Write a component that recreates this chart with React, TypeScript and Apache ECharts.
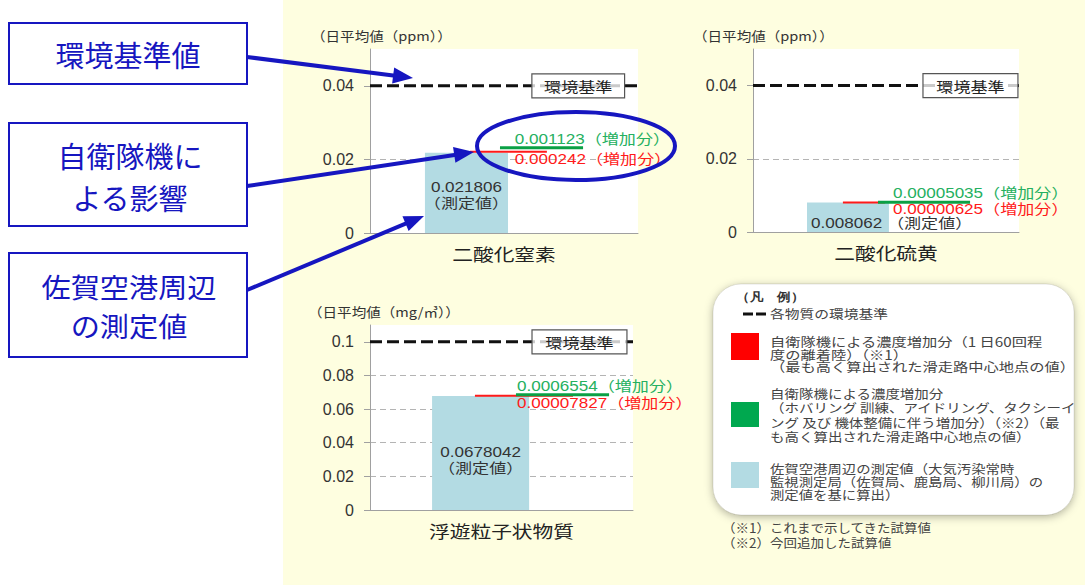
import React, { useEffect, useRef } from 'react';
import * as echarts from 'echarts';

// ---------- data ----------
const categories = ['二酸化窒素', '二酸化硫黄', '浮遊粒子状物質'];
const measured = [0.021806, 0.008062, 0.0678042];
const redIncrease = [0.000242, 0.00000625, 0.00007827];
const greenIncrease = [0.001123, 0.00005035, 0.0006554];
const standards = [0.04, 0.04, 0.1];
const yMax = [0.05, 0.05, 0.11];
const yInterval = 0.02;
const yTicks = [
  [0, 0.02, 0.04],
  [0, 0.02, 0.04],
  [0, 0.02, 0.04, 0.06, 0.08, 0.1],
];
const units = ['（日平均値（ppm））', '（日平均値（ppm））', '（日平均値（mg/㎥））'];
const measuredTag = '（測定値）';
const increaseTag = '（増加分）';
const standardTag = '環境基準';

const annotationTexts = [['環境基準値'], ['自衛隊機に', 'よる影響'], ['佐賀空港周辺', 'の測定値']];
const legendTitle = '（凡　例）';
const legendStandard = '各物質の環境基準';
const legendRed = ['自衛隊機による濃度増加分（1 日60回程', '度の離着陸）（※1）', '（最も高く算出された滑走路中心地点の値）'];
const legendGreen = [
  '自衛隊機による濃度増加分',
  '（ホバリング 訓練、アイドリング、タクシーイ',
  'ング 及び 機体整備に伴う増加分）（※2）（最',
  'も高く算出された滑走路中心地点の値）',
];
const legendBlue = ['佐賀空港周辺の測定値（大気汚染常時', '監視測定局（佐賀局、鹿島局、柳川局）の', '測定値を基に算出）'];
const footnotes = ['（※1）これまで示してきた試算値', '（※2）今回追加した試算値'];

// ---------- styles / layout ----------
const FONT = "'Liberation Sans', 'Noto Sans CJK JP', sans-serif";
const JFONT = "'Noto Sans CJK JP', sans-serif";
const BLUE = '#1616c0';
const BAR = '#b3dbe3';
const RED = '#ff1a1a';
const GREEN = '#0aa045';
const GREEN_TXT = '#25b060';
const SX = 1.22; // horizontal stretch of the reference's lettering

const layouts = [
  { grid: { left: 370, top: 49, width: 268, height: 184 }, bar: [20.5, 51.5], red: [37.3, 66], green: [48.5, 79.5], lblX: 54, box: [60.4, 95], mode: 'two', mOff: 2, unit: [311, 35] },
  { grid: { left: 753, top: 49, width: 266, height: 183 }, bar: [20.3, 51.1], red: [33.8, 49.6], green: [47, 81.6], lblX: 52.6, box: [63.9, 99.6], mode: 'one', mOff: 6, unit: [693, 35] },
  { grid: { left: 370, top: 325, width: 263, height: 185 }, bar: [23.6, 60.5], red: [39.9, 77.2], green: [55.5, 90.9], lblX: 55.9, box: [61.6, 97.7], mode: 'two', mOff: 7, unit: [308, 311] },
];

const fmt = (v: number) => v.toFixed(8).replace(/0+$/, '');
const font = (s: number, f = FONT) => `${s}px ${f}`;

function txt(text: string, x: number, y: number, size: number, fill: string, align = 'left', f = FONT, sx = 1, extra: any = {}) {
  return {
    type: 'text',
    x,
    y,
    z: 100,
    scaleX: sx,
    style: { text, fill, font: `${size}px ${f}`, align, textAlign: align, verticalAlign: 'middle', textVerticalAlign: 'middle', ...extra },
  };
}

function block(lines: string[], x: number, firstCenter: number, lh: number, size: number, sx: number, fill = '#444', align = 'left') {
  return {
    type: 'text',
    x,
    y: firstCenter - lh / 2,
    z: 100,
    scaleX: sx,
    style: {
      text: lines.join('\n'),
      fill,
      font: `${size}px ${JFONT}`,
      lineHeight: lh,
      align,
      textAlign: align,
      verticalAlign: 'top',
      textVerticalAlign: 'top',
    },
  };
}

function arrow(x1: number, y1: number, x2: number, y2: number) {
  const ang = Math.atan2(y2 - y1, x2 - x1);
  const len = 20;
  const hw = 8;
  const bx = x2 - len * Math.cos(ang);
  const by = y2 - len * Math.sin(ang);
  const px = -Math.sin(ang) * hw;
  const py = Math.cos(ang) * hw;
  return [
    { type: 'line', z: 100, shape: { x1, y1, x2: bx + 2 * Math.cos(ang), y2: by + 2 * Math.sin(ang) }, style: { stroke: BLUE, lineWidth: 4 } },
    { type: 'polygon', z: 100, shape: { points: [[x2, y2], [bx + px, by + py], [bx - px, by - py]] }, style: { fill: BLUE } },
  ];
}

function makeRender(i: number) {
  return (params: any, api: any) => {
    const L = layouts[i];
    const m = api.value(0);
    const r = api.value(1);
    const g = api.value(2);
    const std = api.value(3);
    const [bx0, by0] = api.coord([L.bar[0], 0]);
    const [bx1, byTop] = api.coord([L.bar[1], m]);
    const redY = api.coord([0, m + r])[1];
    const greenY = api.coord([0, m + r + g])[1];
    const rx0 = api.coord([L.red[0], 0])[0];
    const rx1 = api.coord([L.red[1], 0])[0];
    const gx0 = api.coord([L.green[0], 0])[0];
    const gx1 = api.coord([L.green[1], 0])[0];
    const stdY = api.coord([0, std])[1];
    const px0 = api.coord([0, 0])[0];
    const px1 = api.coord([100, 0])[0];
    const boxX0 = api.coord([L.box[0], 0])[0];
    const boxX1 = api.coord([L.box[1], 0])[0];
    const lblX = api.coord([L.lblX, 0])[0];
    const barMid = (by0 + byTop) / 2 + L.mOff;
    const t = (text: string, x: number, y: number, size: number, fill: string, align: string, f = FONT) => ({
      type: 'text',
      x,
      y,
      scaleX: SX,
      style: { text, fill, font: font(size, f), align, verticalAlign: 'middle' },
    });

    const children: any[] = [
      { type: 'rect', shape: { x: bx0, y: byTop, width: bx1 - bx0, height: by0 - byTop }, style: { fill: BAR } },
      { type: 'line', shape: { x1: px0, y1: stdY, x2: px1, y2: stdY }, style: { stroke: '#111', lineWidth: 3, lineDash: [12, 5] } },
      { type: 'rect', shape: { x: boxX0, y: stdY - 12, width: boxX1 - boxX0, height: 24 }, style: { fill: 'rgba(255,255,255,0.78)', stroke: '#555', lineWidth: 1.2 } },
      t(standardTag, (boxX0 + boxX1) / 2, stdY, 14, '#222', 'center', JFONT),
      { type: 'line', shape: { x1: rx0, y1: redY, x2: rx1, y2: redY }, style: { stroke: RED, lineWidth: 2 } },
      { type: 'line', shape: { x1: gx0, y1: greenY, x2: gx1, y2: greenY }, style: { stroke: GREEN, lineWidth: 3 } },
      t(fmt(g) + increaseTag, lblX, greenY - 9, 14, GREEN_TXT, 'left'),
      t(fmt(r) + increaseTag, lblX, redY + 7, 14, RED, 'left'),
      t(categories[i], (px0 + px1) / 2, by0 + 20, 17, '#222', 'center', JFONT),
    ];
    if (L.mode === 'two') {
      children.push(t(fmt(m), (bx0 + bx1) / 2, barMid - 8, 14, '#333', 'center'));
      children.push(t(measuredTag, (bx0 + bx1) / 2, barMid + 8, 14, '#333', 'center'));
    } else {
      children.push(t(fmt(m) + ' ' + measuredTag, bx0 + 4, barMid, 14, '#333', 'left'));
    }
    return { type: 'group', children };
  };
}

function buildOption() {
  const grids = layouts.map((L) => ({ ...L.grid, show: true, backgroundColor: '#ffffff', borderWidth: 0 }));
  const xAxes = layouts.map((_, i) => ({
    gridIndex: i,
    type: 'value',
    min: 0,
    max: 100,
    axisLabel: { show: false },
    axisTick: { show: false },
    splitLine: { show: false },
    axisLine: { show: true, lineStyle: { color: '#a0a0a0' } },
  }));
  const yAxes = layouts.map((_, i) => ({
    gridIndex: i,
    type: 'value',
    min: 0,
    max: yMax[i],
    interval: yInterval,
    axisLine: { show: true, lineStyle: { color: '#a0a0a0' } },
    axisTick: { show: true, length: 6, lineStyle: { color: '#a0a0a0' }, customValues: yTicks[i] },
    axisLabel: {
      customValues: yTicks[i],
      margin: 16,
      fontSize: 16,
      color: '#333',
      fontFamily: FONT,
      formatter: (v: number) => {
        const k = yTicks[i].find((q) => Math.abs(q - v) < 1e-9);
        return k === undefined ? '' : String(k);
      },
    },
    splitLine: { show: true, showMinLine: false, showMaxLine: false, lineStyle: { type: [6, 4], color: '#b4b4b4' } },
  }));
  const series = layouts.map((_, i) => ({
    type: 'custom',
    name: categories[i],
    xAxisIndex: i,
    yAxisIndex: i,
    clip: false,
    renderItem: makeRender(i),
    data: [[measured[i], redIncrease[i], greenIncrease[i], standards[i]]],
  }));

  const graphics: any[] = [];
  // unit labels
  layouts.forEach((L, i) => graphics.push(txt(units[i], L.unit[0], L.unit[1], 13, '#333', 'left', JFONT, 1.12)));

  // annotation boxes
  const boxes = [
    { x: 9, y: 23, h: 61, cx: 128, first: 54, lh: 40, fs: 29, sx: 1 },
    { x: 9, y: 123, h: 103, cx: 130, first: 155, lh: 42, fs: 29, sx: 1 },
    { x: 9, y: 253, h: 104, cx: 129, first: 285.5, lh: 39.5, fs: 27, sx: 1.08 },
  ];
  boxes.forEach((b, bi) => {
    graphics.push({ type: 'rect', z: 100, shape: { x: b.x, y: b.y, width: 238, height: b.h }, style: { fill: '#fff', stroke: BLUE, lineWidth: 2 } });
    graphics.push(block(annotationTexts[bi], b.cx, b.first, b.lh, b.fs, b.sx, BLUE, 'center'));
  });
  graphics.push(...arrow(247, 57, 413, 78));
  graphics.push(...arrow(247, 186, 474, 152));
  graphics.push(...arrow(247, 290, 424, 216));
  graphics.push({ type: 'ellipse', z: 100, shape: { cx: 576, cy: 146, rx: 99, ry: 34 }, style: { fill: 'none', stroke: BLUE, lineWidth: 4 } });

  // legend panel
  graphics.push({
    type: 'rect',
    z: 5,
    shape: { x: 713, y: 284, width: 361, height: 231, r: 28 },
    style: { fill: '#fff', stroke: 'rgba(0,0,0,0.10)', lineWidth: 1, shadowBlur: 8, shadowColor: 'rgba(0,0,0,0.30)', shadowOffsetY: 2 },
  });
  graphics.push(txt(legendTitle, 736, 297, 14, '#333', 'left', JFONT, 1.12, { fontWeight: 'bold' }));
  graphics.push({ type: 'rect', z: 100, shape: { x: 743, y: 312.5, width: 10, height: 3 }, style: { fill: '#111' } });
  graphics.push({ type: 'rect', z: 100, shape: { x: 756, y: 312.5, width: 10, height: 3 }, style: { fill: '#111' } });
  graphics.push(txt(legendStandard, 770, 314, 12.5, '#444', 'left', JFONT, 1.18));
  graphics.push({ type: 'rect', z: 100, shape: { x: 731, y: 333, width: 28, height: 27 }, style: { fill: '#ff0000' } });
  graphics.push(block(legendRed, 770, 342, 12.5, 12.5, 1.22));
  graphics.push({ type: 'rect', z: 100, shape: { x: 731, y: 402, width: 28, height: 25 }, style: { fill: '#00a84f' } });
  graphics.push(block(legendGreen, 770, 393, 14.5, 12.5, 1.16));
  graphics.push({ type: 'rect', z: 100, shape: { x: 731, y: 462, width: 28, height: 26 }, style: { fill: BAR } });
  graphics.push(block(legendBlue, 770, 468, 13.4, 12.5, 1.15));
  graphics.push(block(footnotes, 722, 528, 15, 12.5, 1.08));

  return {
    animation: false,
    grid: grids,
    xAxis: xAxes,
    yAxis: yAxes,
    series,
    graphic: { elements: graphics },
  };
}

export default function App() {
  const ref = useRef<HTMLDivElement>(null);
  useEffect(() => {
    if (!ref.current) return;
    const chart = echarts.init(ref.current, undefined, { renderer: 'svg' });
    chart.setOption(buildOption() as any);
    return () => chart.dispose();
  }, []);
  return (
    <div
      ref={ref}
      style={{
        position: 'fixed',
        left: 0,
        top: 0,
        width: 1085,
        height: 585,
        background: 'linear-gradient(to right, #ffffff 283px, #fefee0 283px)',
      }}
    />
  );
}
